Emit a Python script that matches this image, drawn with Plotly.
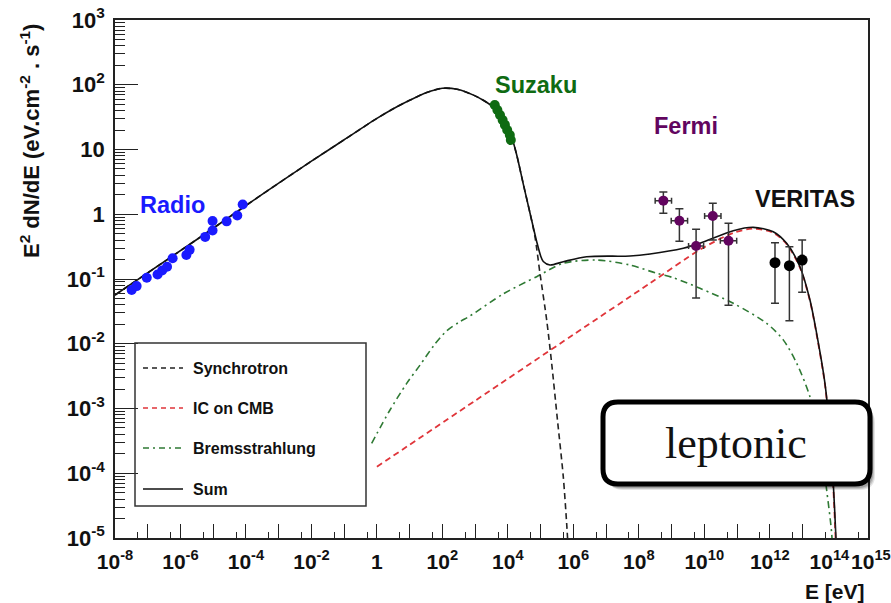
import numpy as np
import plotly.graph_objects as go

# ---------------- data (log10 E [eV], log10 E^2 dN/dE [eV cm^-2 s^-1]) ----------------
# Radio measurements
radio_logE = [-7.49, -7.34, -7.03, -6.70, -6.56, -6.41, -6.24, -5.82, -5.72,
              -5.245, -5.02, -5.02, -4.59, -4.265, -4.10]
radio_logF = [-1.17, -1.11, -0.98, -0.93, -0.87, -0.81, -0.68, -0.63, -0.55,
              -0.35, -0.25, -0.104, -0.11, -0.02, 0.15]

# Suzaku X-ray points
suzaku_logE = [3.60, 3.68, 3.76, 3.84, 3.91, 3.98, 4.06, 4.09]
suzaku_logF = [1.687, 1.61, 1.533, 1.456, 1.38, 1.30, 1.224, 1.147]

# Fermi points with energy bins and flux errors
fermi_logE = [8.75, 9.24, 9.75, 10.26, 10.74]
fermi_logF = [0.21, -0.10, -0.49, -0.027, -0.409]
fermi_logF_hi = [0.344, 0.086, -0.232, 0.169, -0.14]
fermi_logF_lo = [0.015, -0.418, -1.293, -0.398, -1.406]
fermi_halfbin = [0.25, 0.25, 0.23, 0.25, 0.25]

# VERITAS points
veritas_logE = [12.16, 12.60, 12.99]
veritas_logF = [-0.748, -0.795, -0.707]
veritas_logF_hi = [-0.439, -0.501, -0.398]
veritas_logF_lo = [-1.375, -1.644, -1.205]

# Model components
sync_logE = [-8.0, -5.5, -3.977, -3.0, -2.0, -1.0, 0.0, 0.5, 1.0, 1.5, 2.0,
             2.45, 2.95, 3.25, 3.545, 3.75, 3.964, 4.10, 4.269, 4.47, 4.676,
             4.828, 4.981, 5.186, 5.338, 5.52, 5.693, 5.796, 5.87]
sync_logF = [-1.247, -0.39, 0.143, 0.48, 0.82, 1.15, 1.48, 1.63, 1.76, 1.875, 1.945,
             1.93, 1.84, 1.76, 1.66, 1.56, 1.40, 1.22, 0.92, 0.47, 0.02,
             -0.347, -0.912, -1.633, -2.302, -3.2, -4.053, -4.773, -5.4]

ic_logE = [0.0, 3.0, 6.0, 8.341, 9.868, 10.885, 11.496, 12.107,
           12.516, 12.922, 13.228, 13.432, 13.686, 13.839, 13.94, 14.01, 14.04]
ic_logF = [-3.90, -2.88, -1.86, -1.066, -0.547, -0.288, -0.222, -0.286,
           -0.461, -0.824, -1.338, -1.858, -2.627, -3.405, -4.21, -5.0, -5.4]

brems_logE = [-0.16, 0.4, 0.9, 1.316, 1.75, 2.131, 2.5, 2.843, 3.86, 4.88, 5.693,
              6.713, 7.73, 8.545, 9.053, 9.868, 10.885, 11.905, 12.412, 12.822,
              13.228, 13.533, 13.738, 13.891, 13.93]
brems_logF = [-3.537, -3.023, -2.62, -2.33, -2.02, -1.80, -1.67, -1.571, -1.23, -0.964, -0.757,
              -0.707, -0.784, -0.912, -0.98, -1.144, -1.375, -1.684, -1.94, -2.30,
              -2.818, -3.486, -4.259, -4.927, -5.4]

sum_logE = [-8.0, -5.5, -3.977, -3.0, -2.0, -1.0, 0.0, 0.5, 1.0, 1.5, 2.0,
            2.45, 2.95, 3.25, 3.545, 3.75, 3.964, 4.10, 4.269, 4.47, 4.676,
            4.88, 5.00, 5.082, 5.286, 5.693, 6.407, 7.73, 8.341, 9.358, 9.868,
            10.885, 11.496, 12.107, 12.516, 12.922, 13.228, 13.432, 13.686, 13.839,
            13.94, 14.022, 14.05]
sum_logF = [-1.247, -0.39, 0.143, 0.48, 0.82, 1.15, 1.48, 1.63, 1.76, 1.875, 1.945,
            1.93, 1.84, 1.76, 1.66, 1.56, 1.40, 1.22, 0.92, 0.47, 0.02,
            -0.42, -0.64, -0.73, -0.784, -0.733, -0.656, -0.645, -0.614, -0.526, -0.449,
            -0.254, -0.202, -0.269, -0.449, -0.81, -1.324, -1.839, -2.611, -3.383,
            -4.155, -5.0, -5.4]

# Axis labels
x_tick_exp = list(range(-8, 16))
y_tick_exp = list(range(-5, 4))

# Legend entries
legend_names = ["Synchrotron", "IC on CMB", "Bremsstrahlung", "Sum"]


def p(v):
    return 10.0 ** np.asarray(v, dtype=float)


def pow_label(e):
    if e == 0:
        return "1"
    if e == 1:
        return "10"
    return "10<sup>%d</sup>" % e


def x_label(e):
    # the last two decade labels sit close together; nudge them apart
    if e == 14:
        return pow_label(e) + "&nbsp;&nbsp;"
    if e == 15:
        return "&nbsp;" + pow_label(e)
    if e % 2 == 0:
        return pow_label(e)
    return ""


FONT = "Liberation Sans, Arial, Helvetica, sans-serif"
BLUE = "#1a1aff"
GREEN = "#0f6b12"
PURPLE = "#62055f"
RED = "#e0353a"
DGREEN = "#2f7a34"

fig = go.Figure()

# model curves
fig.add_trace(go.Scatter(x=p(brems_logE), y=p(brems_logF), mode="lines",
                         line=dict(color=DGREEN, width=1.6, dash="7px,4px,2px,4px", shape="spline", smoothing=0.8)))
fig.add_trace(go.Scatter(x=p(ic_logE), y=p(ic_logF), mode="lines",
                         line=dict(color=RED, width=1.8, dash="6px,4px", shape="spline", smoothing=0.8)))
fig.add_trace(go.Scatter(x=p(sync_logE), y=p(sync_logF), mode="lines",
                         line=dict(color="#222222", width=1.6, dash="6px,4px", shape="spline", smoothing=0.8)))
fig.add_trace(go.Scatter(x=p(sum_logE), y=p(sum_logF), mode="lines",
                         line=dict(color="#111111", width=1.6, shape="spline", smoothing=0.8)))

# measurements
fig.add_trace(go.Scatter(x=p(radio_logE), y=p(radio_logF), mode="markers",
                         marker=dict(color=BLUE, size=10, line=dict(width=0))))
fig.add_trace(go.Scatter(x=p(suzaku_logE), y=p(suzaku_logF), mode="markers",
                         marker=dict(color=GREEN, size=10, line=dict(width=0))))

fE = p(fermi_logE)
fF = p(fermi_logF)
fig.add_trace(go.Scatter(
    x=fE, y=fF, mode="markers",
    marker=dict(color=PURPLE, size=10, line=dict(width=0)),
    error_y=dict(type="data", symmetric=False, array=p(fermi_logF_hi) - fF,
                 arrayminus=fF - p(fermi_logF_lo), color="#333333", thickness=1.5, width=4),
    error_x=dict(type="data", symmetric=False,
                 array=p(np.add(fermi_logE, fermi_halfbin)) - fE,
                 arrayminus=fE - p(np.subtract(fermi_logE, fermi_halfbin)),
                 color="#333333", thickness=1.5, width=3),
))
vE = p(veritas_logE)
vF = p(veritas_logF)
fig.add_trace(go.Scatter(
    x=vE, y=vF, mode="markers",
    marker=dict(color="#000000", size=11, line=dict(width=0)),
    error_y=dict(type="data", symmetric=False, array=p(veritas_logF_hi) - vF,
                 arrayminus=vF - p(veritas_logF_lo), color="#333333", thickness=1.5, width=4),
))

# ---------------- layout geometry ----------------
W, H = 891, 603
L, R, T, B = 115, 868, 20, 538
pw, ph = R - L, B - T


def px_x(v):
    return (v - L) / pw


def px_y(v):
    return (B - v) / ph


def rounded_box(x0, y0, x1, y1, r):
    ax0, ax1 = px_x(x0), px_x(x1)
    ay0, ay1 = px_y(y1), px_y(y0)
    rx, ry = r / pw, r / ph
    return (f"M {ax0 + rx},{ay0} L {ax1 - rx},{ay0} Q {ax1},{ay0} {ax1},{ay0 + ry} "
            f"L {ax1},{ay1 - ry} Q {ax1},{ay1} {ax1 - rx},{ay1} "
            f"L {ax0 + rx},{ay1} Q {ax0},{ay1} {ax0},{ay1 - ry} "
            f"L {ax0},{ay0 + ry} Q {ax0},{ay0} {ax0 + rx},{ay0} Z")


shapes = []
# legend frame
shapes.append(dict(type="rect", xref="paper", yref="paper",
                   x0=px_x(135), x1=px_x(366), y0=px_y(506), y1=px_y(343),
                   line=dict(color="#333333", width=1.5), fillcolor="rgba(0,0,0,0)"))
legend_styles = [dict(color="#222222", width=1.6, dash="5px,4px"),
                 dict(color=RED, width=1.6, dash="5px,4px"),
                 dict(color=DGREEN, width=1.6, dash="6px,4px,2px,4px"),
                 dict(color="#111111", width=1.6)]
legend_rows = [368, 408, 448, 489]
annotations = []
for name, style, ry in zip(legend_names, legend_styles, legend_rows):
    shapes.append(dict(type="line", xref="paper", yref="paper",
                       x0=px_x(143), x1=px_x(183), y0=px_y(ry), y1=px_y(ry), line=style))
    annotations.append(dict(text=name, xref="paper", yref="paper", x=px_x(191), y=px_y(ry),
                            xanchor="left", yanchor="middle", showarrow=False,
                            font=dict(family=FONT, size=16, color="#111111", weight="bold")))

# "leptonic" box with soft shadow
for dx, dy, op in [(5, 6, 0.10), (4, 5, 0.14), (3, 4, 0.18)]:
    shapes.append(dict(type="path", xref="paper", yref="paper",
                       path=rounded_box(603 + dx, 402 + dy, 870 + dx, 484 + dy, 15),
                       fillcolor=f"rgba(0,0,0,{op})", line=dict(width=0)))
shapes.append(dict(type="path", xref="paper", yref="paper",
                   path=rounded_box(603, 402, 870, 484, 15),
                   fillcolor="white", line=dict(color="black", width=5)))
annotations.append(dict(text="leptonic", xref="paper", yref="paper", x=px_x(736), y=px_y(443),
                        xanchor="center", yanchor="middle", showarrow=False,
                        font=dict(family="Liberation Serif, Times New Roman, serif", size=44, color="#111111")))

# instrument labels
for txt, lx, ly, col in [("Radio", -6.244, 0.143, BLUE),
                         ("Suzaku", 4.859, 1.996, GREEN),
                         ("Fermi", 9.44, 1.363, PURPLE),
                         ("VERITAS", 13.09, 0.236, "#111111")]:
    annotations.append(dict(text=txt, xref="x", yref="y", x=lx, y=ly, showarrow=False,
                            xanchor="center", yanchor="middle",
                            font=dict(family=FONT, size=23.5, color=col, weight="bold")))

# axis titles
annotations.append(dict(text="E<sup>2</sup> dN/dE (eV.cm<sup>-2</sup> . s<sup>-1</sup>)",
                        xref="paper", yref="paper", x=px_x(30), y=px_y(141), textangle=-90,
                        xanchor="center", yanchor="middle", showarrow=False,
                        font=dict(family=FONT, size=22, color="#111111", weight="bold")))
annotations.append(dict(text="E [eV]", xref="paper", yref="paper", x=px_x(867), y=px_y(591),
                        xanchor="right", yanchor="middle", showarrow=False,
                        font=dict(family=FONT, size=21, color="#111111", weight="bold")))

x_ticktext = [x_label(e) for e in x_tick_exp]
x_minor = [5 * 10.0 ** e for e in range(-9, 15)]
y_minor = [m * 10.0 ** e for e in range(-5, 3) for m in range(2, 10)]

fig.update_layout(
    width=W, height=H,
    margin=dict(l=L, r=W - R, t=T, b=H - B, autoexpand=False),
    paper_bgcolor="white", plot_bgcolor="white",
    showlegend=False,
    shapes=shapes, annotations=annotations,
    xaxis=dict(type="log", range=[-8, 15.001], showgrid=False, zeroline=False,
               automargin=False,
               showline=True, linecolor="#222222", linewidth=1.5, mirror=True,
               ticks="inside", ticklen=14, tickwidth=1.3, tickcolor="#222222",
               tickvals=[10.0 ** e for e in x_tick_exp], ticktext=x_ticktext,
               tickangle=0,
               tickfont=dict(family=FONT, size=21, color="#111111", weight="bold"),
               ticklabelstandoff=4,
               minor=dict(ticks="inside", ticklen=6, tickwidth=1.2, tickcolor="#222222",
                          tickvals=x_minor, showgrid=False)),
    yaxis=dict(type="log", range=[-5, 3], showgrid=False, zeroline=False,
               automargin=False,
               showline=True, linecolor="#222222", linewidth=1.5, mirror=True,
               ticks="inside", ticklen=23, tickwidth=1.3, tickcolor="#222222",
               tickvals=[10.0 ** e for e in y_tick_exp],
               ticktext=[pow_label(e) for e in y_tick_exp],
               tickfont=dict(family=FONT, size=22, color="#111111", weight="bold"),
               ticklabelstandoff=4,
               minor=dict(ticks="inside", ticklen=10, tickwidth=1.1, tickcolor="#222222",
                          tickvals=y_minor, showgrid=False)),
)

fig.write_html("out.html")
